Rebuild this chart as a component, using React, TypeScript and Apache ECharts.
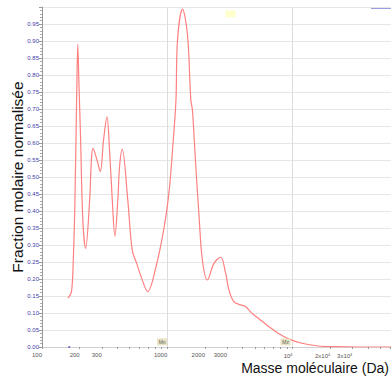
import React, { useEffect, useRef } from "react";
import * as echarts from "echarts";

// Molecular mass (Da) and normalised molar fraction
const masses = [161, 165, 172, 177, 183, 189, 193, 197, 203, 212, 223, 240, 248, 255, 275, 292, 310, 330, 346, 364, 382, 403, 416, 437, 484, 525, 570, 618, 698, 813, 946, 1037, 1101, 1173, 1207, 1323, 1449, 1542, 1588, 1690, 1795, 1906, 2089, 2360, 2668, 2924, 3105, 3404, 3846, 4214, 4756, 5370, 6452, 7740, 9300, 11860, 16080, 21800, 33400, 61100];
const fractions = [0.144, 0.149, 0.163, 0.236, 0.42, 0.73, 0.89, 0.78, 0.62, 0.37, 0.29, 0.432, 0.55, 0.584, 0.55, 0.516, 0.609, 0.677, 0.579, 0.432, 0.326, 0.432, 0.53, 0.581, 0.432, 0.285, 0.246, 0.207, 0.163, 0.236, 0.354, 0.462, 0.579, 0.726, 0.903, 0.994, 0.92, 0.726, 0.697, 0.53, 0.383, 0.256, 0.197, 0.246, 0.264, 0.217, 0.168, 0.133, 0.124, 0.119, 0.099, 0.084, 0.06, 0.04, 0.024, 0.011, 0.003, 0.001, 0.0, 0.0];

// x-axis labelled ticks and minor ticks (Da)
const xLabelValues = [100, 200, 300, 1000, 2000, 3000, 10000, 20000, 30000];
const xMinorTicks = [100, 200, 300, 400, 500, 600, 700, 800, 900, 1000, 2000, 3000, 4000, 5000, 6000, 7000, 8000, 9000, 10000, 20000, 30000, 40000, 50000, 60000];
const xMin = 100;
const xMax = 61100;

// annotation boxes (Mn, Mw, Mz)
const markerNames = ["Mn", "Mw", "Mz"];
const markerMasses = [910, 3200, 8800];
const markerLevels = [0.015, 0.98, 0.015];
const markerColors = ["#e6e2c2", "#ffffcc", "#e6e2c2"];

const lg = (v: number) => Math.log10(v);

function formatMass(v: number): string {
  const m = Math.round(Math.pow(10, v));
  if (m < 10000) return String(m);
  const k = Math.round(m / 10000);
  return k === 1 ? "10{s|4}" : k + "x10{s|4}";
}

export default function App() {
  const ref = useRef<HTMLDivElement>(null);
  useEffect(() => {
    if (!ref.current) return;
    const chart = echarts.init(ref.current, null, { renderer: "svg" });
    const data = masses.map((m, i) => [lg(m), fractions[i]]);
    chart.setOption({
      animation: false,
      grid: { left: 42, right: -2, top: 7, bottom: 31, containLabel: false },
      xAxis: [
        {
          type: "value",
          min: lg(xMin),
          max: lg(xMax),
          interval: 1,
          axisLine: { show: true, lineStyle: { color: "#d0d0d0" } },
          axisTick: { show: false },
          splitLine: { show: true, lineStyle: { color: "#dcdcdc", width: 1 } },
          axisLabel: {
            customValues: xLabelValues.map(lg),
            formatter: (v: number) => formatMass(v),
            fontSize: 6,
            color: "#555",
            fontFamily: "Liberation Sans",
            align: "right",
            margin: 5,
            rich: {
              s: { fontSize: 4, verticalAlign: "top", padding: [0, 0, 4, 0], color: "#555" },
            },
          },
        },
        {
          type: "value",
          min: lg(xMin),
          max: lg(xMax),
          position: "bottom",
          axisLine: { show: false },
          axisTick: {
            show: true,
            customValues: xMinorTicks.map(lg),
            length: 2,
            lineStyle: { color: "#999" },
          },
          axisLabel: { show: false },
          splitLine: { show: false },
        },
      ],
      yAxis: {
        type: "value",
        min: 0,
        max: 1,
        interval: 0.05,
        axisLine: { show: true, lineStyle: { color: "#999" } },
        axisTick: { show: true, length: 3, lineStyle: { color: "#999" } },
        minorTick: { show: true, splitNumber: 5, length: 2, lineStyle: { color: "#aaa" } },
        splitLine: { show: true, lineStyle: { color: "#e6e6e6", width: 1 } },
        axisLabel: {
          formatter: (v: number) => v.toFixed(2),
          showMaxLabel: false,
          fontSize: 6,
          color: "#4040a8",
          fontFamily: "Liberation Sans",
          margin: 3,
        },
      },
      graphic: [
        {
          type: "text",
          x: 17,
          y: 177,
          rotation: Math.PI / 2,
          style: {
            text: "Fraction molaire normalisée",
            fontSize: 15.5,
            fontFamily: "Liberation Sans",
            fill: "#111",
            align: "center",
            verticalAlign: "middle",
          },
        },
        {
          type: "text",
          x: 389,
          y: 368,
          style: {
            text: "Masse moléculaire (Da)",
            fontSize: 14,
            fontFamily: "Liberation Sans",
            fill: "#111",
            align: "right",
            verticalAlign: "middle",
          },
        },
        {
          type: "line",
          shape: { x1: 371, y1: 8, x2: 391, y2: 8 },
          style: { stroke: "#7b7bd8", lineWidth: 1.5 },
        },
      ],
      series: [
        {
          type: "line",
          data,
          smooth: 0.35,
          showSymbol: false,
          lineStyle: { color: "#ff8080", width: 1.2 },
          markPoint: {
            silent: true,
            data: markerNames.map((n, i) => ({
              coord: [lg(markerMasses[i]), markerLevels[i]],
              symbol: "rect",
              symbolSize: [10, 7],
              itemStyle: { color: markerColors[i] },
              label: {
                show: i !== 1,
                formatter: n,
                fontSize: 5,
                color: "#666",
                position: "inside",
              },
            })),
          },
        },
        {
          type: "scatter",
          data: [[lg(165), 0]],
          symbol: "rect",
          symbolSize: 2,
          itemStyle: { color: "#6060d0" },
          silent: true,
        },
      ],
    });
    return () => chart.dispose();
  }, []);
  return (
    <div
      ref={ref}
      style={{ position: "absolute", left: 0, top: 0, width: 391, height: 378 }}
    />
  );
}
